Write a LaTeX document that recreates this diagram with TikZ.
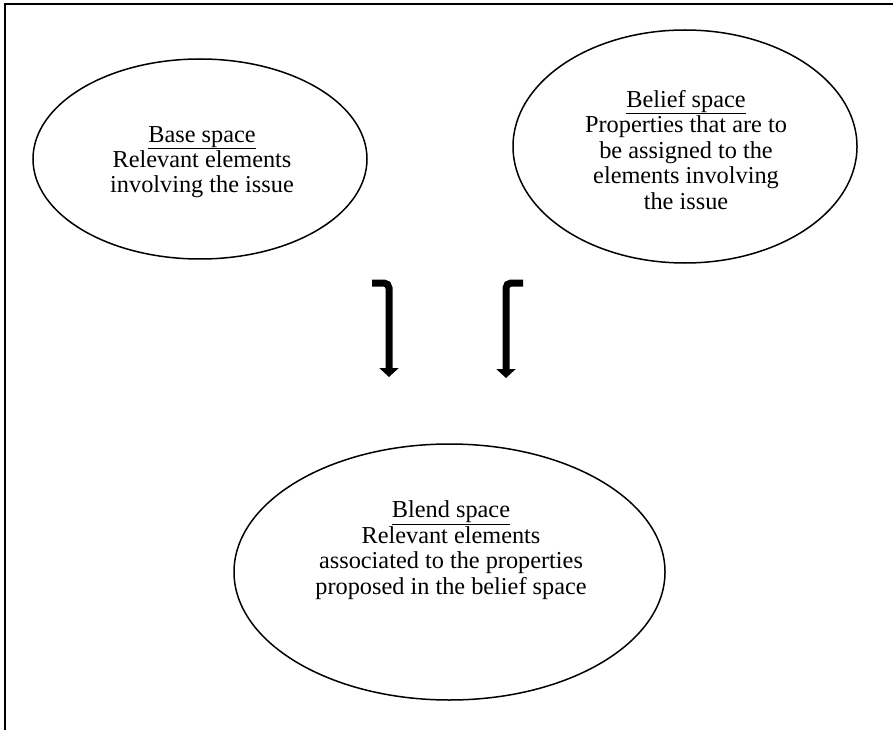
\documentclass[tikz,border=0pt]{standalone}
\usepackage{fontspec}
\setmainfont{Liberation Serif}
\usetikzlibrary{shapes.geometric,arrows.meta}
\begin{document}
\begin{tikzpicture}[x=1pt,y=-1pt,
  space/.style={draw,line width=1.5pt,ellipse,inner sep=0pt},
  label/.style={align=center,inner sep=0pt,anchor=base,
    font=\fontsize{24.3}{25.5}\selectfont},
  flow/.style={line width=7pt,rounded corners=5pt,
    -{Triangle[width=19pt,length=9pt]}}]
\useasboundingbox (0,0) rectangle (893,730);
% page frame (top and left rules)
\draw[line width=1.5pt] (893,4) -- (5,4) -- (5,730);

% the three spaces
\node[space,minimum width=334pt,minimum height=200pt] (base) at (200,159) {};
\node[space,minimum width=344pt,minimum height=233pt] (belief) at (685,146.5) {};
\node[space,minimum width=431pt,minimum height=256pt] (blend) at (449.5,572) {};

% texts, placed by the baseline of their last line
\node[label] (basetxt) at (202,193)
  {\underline{Base space}\\Relevant elements\\involving the issue};
\node[label] (belieftxt) at (686,209)
  {\underline{Belief space}\\Properties that are to\\be assigned to the\\elements involving\\the issue};
\node[label] (blendtxt) at (451,594)
  {\underline{Blend space}\\Relevant elements\\associated to the properties\\proposed in the belief space};

% hooked arrows into the blend space
\coordinate (lhook) at (372,283);
\coordinate (lbend) at (389,283);
\coordinate (ltip) at (389,377);
\coordinate (rhook) at (523,283);
\coordinate (rbend) at (506,283);
\coordinate (rtip) at (506,378);
\draw[flow] (lhook) -- (lbend) -- (ltip);
\draw[flow] (rhook) -- (rbend) -- (rtip);
\end{tikzpicture}
\end{document}
